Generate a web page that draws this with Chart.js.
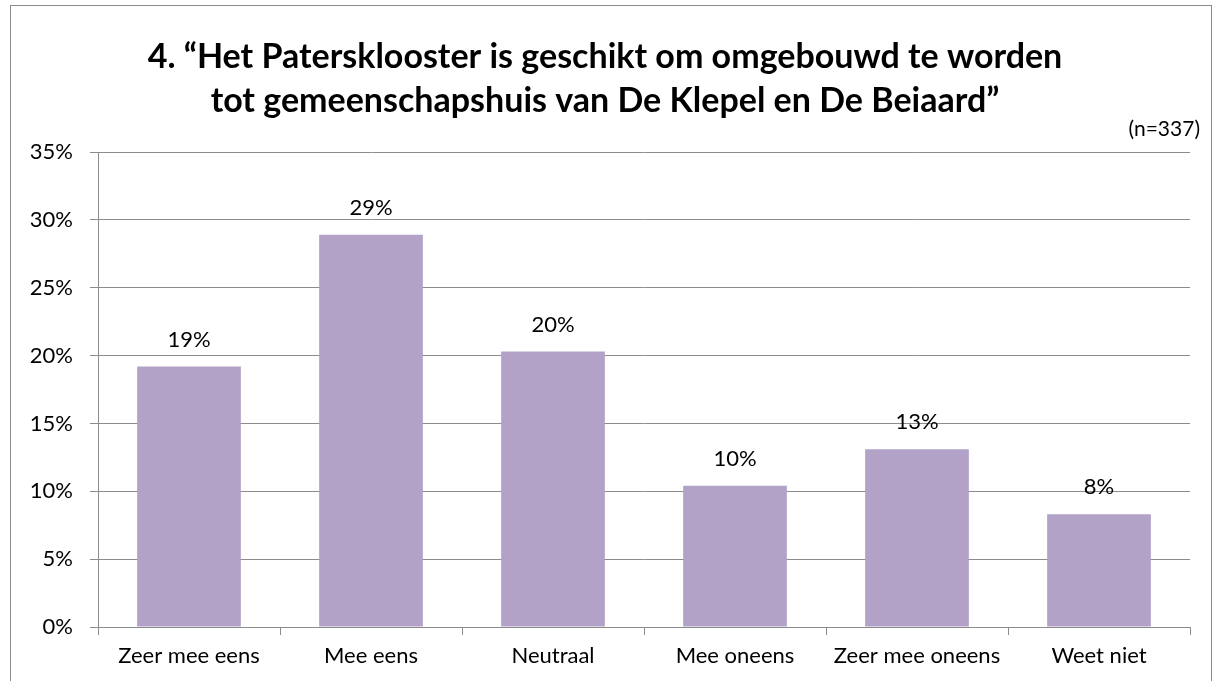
<!DOCTYPE html>
<html>
<head>
<meta charset="utf-8">
<script src="https://cdn.jsdelivr.net/npm/chart.js@4"></script>
<style>
	body { margin: 0; background: #fff; overflow: hidden; }
	#wrap { position: relative; width: 1215px; height: 681px; }
	#frame { position: absolute; left: 10px; top: 5px; width: 1202px; height: 700px; border: 1px solid #8c8c8c; box-sizing: border-box; }
	canvas { position: absolute; left: 0; top: 0; }
</style>
</head>
<body>
<div id="wrap">
	<div id="frame"></div>
	<canvas id="myChart" width="1215" height="681"></canvas>
</div>
<script>
const categories = ["Zeer mee eens", "Mee eens", "Neutraal", "Mee oneens", "Zeer mee oneens", "Weet niet"];
const percentages = [19.2, 28.9, 20.3, 10.4, 13.1, 8.3];
const yTicks = [0, 5, 10, 15, 20, 25, 30, 35];
const titleLines = ["4. \u201cHet Patersklooster is geschikt om omgebouwd te worden", "tot gemeenschapshuis van De Klepel en De Beiaard\u201d"];
const sampleNote = "(n=337)";

const FONT = "Lato, 'Open Sans', sans-serif";
const GRID = "#8c8c8c";

// draws the % above each bar and the (n=...) note
const labelPlugin = {
	id: "barLabels",
	afterDatasetsDraw(chart) {
		const ctx = chart.ctx;
		ctx.save();
		ctx.fillStyle = "#000";
		ctx.font = "22px " + FONT;
		ctx.textAlign = "center";
		ctx.textBaseline = "middle";
		chart.getDatasetMeta(0).data.forEach((bar, i) => {
			ctx.fillText(Math.round(percentages[i]) + "%", bar.x, bar.y - 27);
		});
		ctx.font = "21px " + FONT;
		ctx.textAlign = "right";
		ctx.fillText(sampleNote, chart.chartArea.right + 10, 129);
		ctx.restore();
	}
};

new Chart("myChart", {
	type: "bar",
	data: {
		labels: categories,
		datasets: [{
			data: percentages,
			backgroundColor: "#b3a2c7",
			borderWidth: 0,
			barPercentage: 0.57,
			categoryPercentage: 1
		}]
	},
	plugins: [labelPlugin],
	options: {
		responsive: false,
		animation: false,
		layout: { padding: { left: 20, right: 25, top: 10, bottom: 0 } },
		plugins: {
			legend: { display: false },
			tooltip: { enabled: false },
			title: {
				display: true,
				text: titleLines,
				color: "#000",
				font: { family: FONT, size: 34, weight: "bold", lineHeight: 44 / 34 },
				padding: { top: 25, bottom: 29 }
			}
		},
		scales: {
			x: {
				afterFit(scale) { scale.height = 54; },
				grid: { offset: true, drawOnChartArea: false, color: GRID, tickLength: 8 },
				border: { color: GRID },
				ticks: { color: "#000", font: { family: FONT, size: 22 }, padding: 8, maxRotation: 0 }
			},
			y: {
				min: 0,
				max: 35,
				afterFit(scale) { scale.width = 78; },
				afterBuildTicks(scale) { scale.ticks = yTicks.map(v => ({ value: v })); },
				grid: { color: GRID, tickLength: 8 },
				border: { color: GRID },
				ticks: {
					color: "#000",
					font: { family: FONT, size: 22 },
					padding: 17,
					callback: v => v + "%"
				}
			}
		}
	}
});
</script>
</body>
</html>
